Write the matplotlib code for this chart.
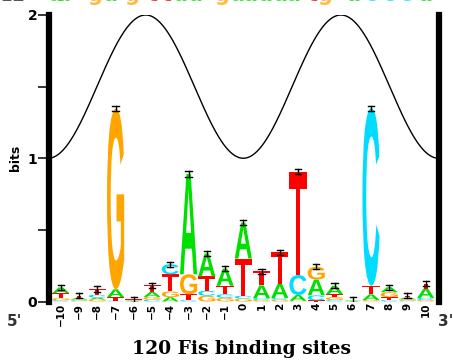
import numpy as np
import matplotlib.pyplot as plt
from matplotlib.textpath import TextPath
from matplotlib.patches import PathPatch
from matplotlib.font_manager import FontProperties
from matplotlib.transforms import Affine2D

# positions of the Fis site and information (bits) per base
positions = list(range(-10, 11))
bits_A = [0.040, 0.012, 0.012, 0.055, 0.004, 0.035, 0.030, 0.700, 0.160, 0.120, 0.250,
          0.090, 0.100, 0.040, 0.110, 0.060, 0.003, 0.040, 0.035, 0.012, 0.065]
bits_C = [0.008, 0.006, 0.020, 0.005, 0.003, 0.012, 0.070, 0.010, 0.035, 0.025, 0.020,
          0.012, 0.012, 0.140, 0.035, 0.010, 0.003, 1.240, 0.010, 0.006, 0.015]
bits_G = [0.015, 0.008, 0.015, 1.260, 0.003, 0.020, 0.040, 0.140, 0.040, 0.025, 0.020,
          0.010, 0.012, 0.005, 0.090, 0.020, 0.003, 0.010, 0.035, 0.010, 0.010]
bits_T = [0.035, 0.015, 0.040, 0.025, 0.004, 0.045, 0.120, 0.040, 0.100, 0.060, 0.260,
          0.100, 0.220, 0.720, 0.008, 0.020, 0.003, 0.060, 0.020, 0.012, 0.035]
# stacking order, bottom to top
stack_order = ["CGTA", "CGAT", "GACT", "CTAG", "CGAT", "CGAT", "AGTC", "CTGA", "GCTA", "GCTA", "GCTA",
               "GCAT", "GCAT", "GACT", "TCAG", "CGTA", "CGAT", "GATC", "CTGA", "CGAT", "GCAT"]
err = 0.018
helix_period = 10.7

# consensus line at the top (mostly cut off)
top_seq = list("aagagttaagaaaaatgaccca")
top_x = [55, 63, 95, 110, 132, 153, 167, 180, 195, 222, 237, 250, 265, 280, 293,
         313, 325, 353, 370, 388, 405, 425]

colors = {'A': '#00e000', 'C': '#00dcff', 'G': '#ffa500', 'T': '#ff0000'}
bits = {'A': bits_A, 'C': bits_C, 'G': bits_G, 'T': bits_T}

W, H = 453, 363
fig = plt.figure(figsize=(W / 100, H / 100), dpi=100)
ax = fig.add_axes([49 / W, (H - 301.5) / H, 389.5 / W, 286.5 / H])
ax.set_xlim(-10.65, 10.7)
ax.set_ylim(0, 2)

letter_font = FontProperties(family='Liberation Sans', weight='bold')


def draw_letter(ax, ch, x, y0, h, w=0.94):
    if h <= 0:
        return
    tp = TextPath((0, 0), ch, size=1, prop=letter_font)
    bb = tp.get_extents()
    tr = Affine2D().translate(-bb.x0, -bb.y0).scale(w / bb.width, h / bb.height).translate(x - w / 2, y0)
    ax.add_patch(PathPatch(tr.transform_path(tp), fc=colors[ch], ec='none', lw=0, zorder=3))


for i, p in enumerate(positions):
    y = 0.0
    for ch in stack_order[i]:
        h = bits[ch][i]
        draw_letter(ax, ch, p, y, h)
        y += h
    # error bar
    ax.plot([p, p], [y - err, y + err], color='black', lw=1.0, zorder=4)
    for yy in (y - err, y + err):
        ax.plot([p - 0.17, p + 0.17], [yy, yy], color='black', lw=1.0, zorder=4)

xs = np.linspace(-10.65, 10.7, 500)
ax.plot(xs, 1.5 - 0.5 * np.cos(2 * np.pi * xs / helix_period), color='black', lw=1.0, zorder=2)

for side in ['top', 'bottom']:
    ax.spines[side].set_visible(False)
for side in ['left', 'right']:
    ax.spines[side].set_linewidth(4.5)

ax.set_yticks([0, 1, 2])
ax.set_yticklabels(['0', '1', '2'], fontweight='bold', fontsize=10)
ax.set_yticks([0.5, 1.5], minor=True)
ax.tick_params(axis='y', which='both', length=8, width=1.1, pad=0.5, direction='out')
ax.set_xticks(positions)
ax.set_xticklabels([str(p).replace('-', '\u2212') for p in positions],
                   rotation=90, fontweight='bold', fontsize=7.5)
ax.tick_params(axis='x', length=0, pad=1)

fig.text(15 / W, 1 - 158 / H, 'bits', rotation=90, ha='center', va='center',
         fontweight='bold', fontsize=9)
fig.text(14 / W, 1 - 322 / H, "5'", ha='center', va='center', fontweight='bold', fontsize=11, color='#333333')
fig.text(446 / W, 1 - 322 / H, "3'", ha='center', va='center', fontweight='bold', fontsize=11, color='#333333')
fig.text(241 / W, 1 - 349 / H, '120 Fis binding sites', ha='center', va='center',
         family='DejaVu Serif', fontweight='bold', fontsize=13.5)

# top consensus letters, clipped by the figure edge
fig.text(0, 1 - 1.0 / H, '12', ha='left', va='baseline', fontsize=15, color='#555555')
for ch, x in zip(top_seq, top_x):
    fig.text(x / W, 1 - 1.0 / H, ch, ha='center', va='baseline', fontsize=15,
             fontweight='bold', color=colors[ch.upper()], alpha=0.75)

fig.savefig('out.png', dpi=100)
